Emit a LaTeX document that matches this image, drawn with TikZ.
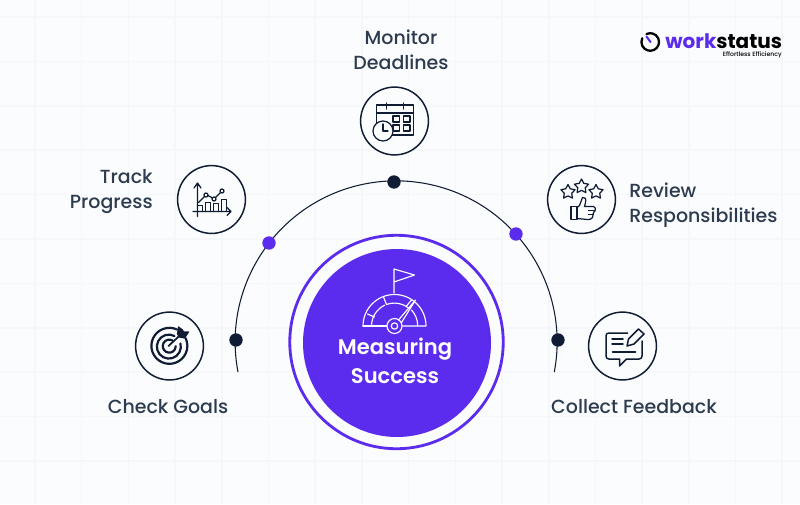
\documentclass[tikz,border=0pt]{standalone}
\usepackage{fontspec}
\setmainfont{Poppins}
\newfontfamily\labelfont{Poppins Medium}
\newfontfamily\headfont{Poppins SemiBold}
\usetikzlibrary{positioning, calc, shapes.geometric}
\definecolor{pagebg}{HTML}{FBFCFE}
\definecolor{gridline}{HTML}{F6F7FB}
\definecolor{brandpurple}{HTML}{5B2BEE}
\definecolor{navy}{HTML}{101C33}
\definecolor{labeltext}{HTML}{2D3B4E}
\tikzset{
  iconcircle/.style={circle, draw=navy, line width=0.85pt, minimum size=38.6pt, inner sep=0pt, fill=pagebg},
  dotnavy/.style={circle, fill=navy, minimum size=7.6pt, inner sep=0pt},
  dotpurple/.style={circle, fill=brandpurple, minimum size=7.6pt, inner sep=0pt},
  steplabel/.style={text=labeltext, font=\labelfont\fontsize{10.8}{14.2}\selectfont, inner sep=0pt},
  glyph/.style={draw=navy, line width=0.7pt, line cap=round, line join=round},
  glyphw/.style={draw=white, line width=0.65pt, line cap=round, line join=round},
  ratestar/.style={star, star points=5, star point ratio=1.9, glyph, minimum size=8.5pt, inner sep=0pt}
}
\begin{document}
\begin{tikzpicture}[x=0.02cm, y=-0.02cm]
\useasboundingbox (0,0) rectangle (800,504);
\fill[pagebg] (0,0) rectangle (800,504);
% Background grid
\foreach \k in {0,...,16} {
  \draw[gridline, line width=0.9pt] ({35+46.7*\k},0) -- ({35+46.7*\k},504);
}
\foreach \k in {0,...,11} {
  \draw[gridline, line width=0.9pt] (0,{17+44.4*\k}) -- (800,{17+44.4*\k});
}
% Arc
\draw[navy, line width=0.6pt] (238,372) arc[start angle=190.8, end angle=-10.8, x radius=161, y radius=-161];
\node[dotnavy] (dottop) at (394,182) {};
\node[dotnavy] (dotleft) at (236,340) {};
\node[dotnavy] (dotright) at (558,340) {};
\node[dotpurple] (dotupleft) at (269,243) {};
\node[dotpurple] (dotupright) at (516,234) {};
% Centre
\node[circle, draw=brandpurple, line width=1.6pt, fill=pagebg, minimum size=121.5pt, inner sep=0pt] (ring) at (396.5,342) {};
\node[circle, fill=brandpurple, minimum size=107pt, inner sep=0pt] (hub) at (397,343) {};
\node[text=white, font=\headfont\fontsize{12}{15}\selectfont, inner sep=0pt] (measuring) at (395,349) {Measuring};
\node[text=white, font=\headfont\fontsize{12}{15}\selectfont, inner sep=0pt] (success) at (395,376) {Success};
% Gauge
\begin{scope}[shift={(394.5,326)}]
\draw[glyphw] (-31.5,0) arc[start angle=180, end angle=0, x radius=31.5, y radius=-31.5] -- (8,0);
\draw[glyphw] (-31.5,0) -- (-8,0);
\draw[glyphw] (-23,0) arc[start angle=180, end angle=115, x radius=23, y radius=-23];
\draw[glyphw] (-8,-21.5) arc[start angle=110, end angle=50, x radius=23, y radius=-23];
\draw[glyphw] (17,-16) arc[start angle=43, end angle=0, x radius=23, y radius=-23];
\draw[glyphw] (-27,-12) -- (-20,-9);
\draw[glyphw] (-11,-29) -- (-8,-21.5);
\draw[glyphw] (17,-26) -- (12,-20);
\draw[glyphw] (0,0) circle (7.5);
\draw[glyphw] (0,0) circle (3.2);
\draw[glyphw] (4,-6) -- (21,-26) (7,-3.5) -- (21,-26);
\draw[glyphw] (-0.5,-33) -- (-0.5,-57) -- (20,-51) -- (-0.5,-44);
\end{scope}
% Monitor Deadlines
\node[iconcircle] (monitor) at (394.5,121) {};
\node[steplabel, align=center] (monitortext) at (401,50) {Monitor\\Deadlines};
\begin{scope}[shift={(monitor.center)}]
\draw[glyph] (-18,-16) rectangle (19,14);
\draw[glyph] (-18,-8) -- (19,-8);
\draw[glyph] (-8,-18) -- (-8,-12) (9,-18) -- (9,-12);
\foreach \cx/\cy in {-1.5/-5, 9/-5, -1.5/4, 9/4} {
  \draw[glyph] (\cx,\cy) rectangle ++(6.5,6);
}
\fill[pagebg] (-11.5,10) circle (10);
\draw[glyph] (-11.5,10) circle (10);
\draw[glyph] (-11.5,3) -- (-11.5,10) -- (-6.5,10);
\end{scope}
% Track Progress
\node[iconcircle] (track) at (211.5,199.5) {};
\node[steplabel, align=right, anchor=east] (tracktext) at (153,192) {Track\\Progress};
\begin{scope}[shift={(track.center)}]
\draw[glyph] (-14,17) -- (-14,-16.5) (-17.5,-11.5) -- (-14,-16.5) -- (-10.5,-11.5);
\draw[glyph] (-18.5,12) -- (19.5,12) (15.5,8) -- (19.5,12) -- (15.5,16);
\draw[glyph] (-13,3) -- (-7,-3) (-3.5,-4) -- (1,-1.5) (4,-2) -- (9,-7);
\draw[glyph] (-5.5,-4.5) circle (2) (2.5,-0.5) circle (2) (10.5,-8.5) circle (2);
\draw[glyph] (-14,6) -- (-9,6) -- (-9,12);
\draw[glyph] (-6,12) -- (-6,3) -- (-1,3) -- (-1,12);
\draw[glyph] (2,12) -- (2,4) -- (7,4) -- (7,12);
\draw[glyph] (10,12) -- (10,0) -- (15,0) -- (15,12);
\end{scope}
% Review Responsibilities
\node[iconcircle] (review) at (581.5,199.5) {};
\node[steplabel, align=left, anchor=west] (reviewtext) at (629,205) {Review\\Responsibilities};
\begin{scope}[shift={(review.center)}]
\node[ratestar] (starleft) at (-13.5,-7.5) {};
\node[ratestar] (starmid) at (0,-13) {};
\node[ratestar] (starright) at (14.5,-7.5) {};
\draw[glyph] (-10.5,7) rectangle (-4.5,20);
\draw[glyph] (-4.5,8) -- (-2,6) -- (1,-2) .. controls (3,-3) and (5,-1) .. (4,3) -- (3,7) -- (12,7) .. controls (15,8) and (14,12) .. (12,13) -- (11,18) .. controls (10,20) and (8,20) .. (6,20) -- (-4.5,19);
\draw[glyph] (7,11) -- (13,11) (7,15) -- (12,15);
\end{scope}
% Check Goals
\node[iconcircle] (check) at (169.5,346) {};
\node[steplabel] (checktext) at (168,407) {Check Goals};
\begin{scope}[shift={(check.center)}]
\draw[navy, line width=1.25pt, line cap=round] (7.5,-16.5) arc[start angle=65, end angle=385, x radius=18, y radius=-18];
\draw[navy, line width=1.25pt, line cap=round] (5,-10) arc[start angle=62, end angle=375, x radius=12, y radius=-12];
\draw[navy, line width=1.25pt, line cap=round] (3,-5.5) arc[start angle=60, end angle=360, x radius=6.5, y radius=-6.5];
\draw[navy, line width=1pt, line cap=round] (-1,0) -- (14,-14);
\draw[glyph, fill=navy] (8,-12) -- (9,-19) -- (13,-16) -- (14,-14) -- (19,-14) -- (15,-8) -- (10,-9) -- cycle;
\end{scope}
% Collect Feedback
\node[iconcircle] (collect) at (622.5,346) {};
\node[steplabel] (collecttext) at (634,407) {Collect Feedback};
\begin{scope}[shift={(collect.center)}]
\draw[glyph, line width=0.85pt] (5,-13) -- (-13.5,-13) .. controls (-15.5,-13) and (-16.5,-12) .. (-16.5,-10) -- (-16.5,10) .. controls (-16.5,12) and (-15.5,13) .. (-13.5,13) -- (-3,13) -- (-3,20) -- (4,13) -- (16.5,13) .. controls (18.5,13) and (19.5,12) .. (19.5,10) -- (19.5,-5);
\draw[glyph, line width=0.85pt] (-10.5,-7) -- (0.5,-7) (-10.5,-2) -- (0.5,-2) (-10,6) -- (13,6);
\draw[glyph, line width=0.85pt] (4.5,0) -- (6,-7) -- (16,-17) -- (21.5,-12) -- (11.5,-2) -- cycle;
\end{scope}
% Logo
\coordinate (clock) at (650.5,42);
\draw[black, line width=1.3pt, line cap=round] (646.5,34) arc[start angle=115, end angle=-205, x radius=8.8, y radius=-8.8];
\draw[brandpurple, line width=1.2pt, line cap=round] (clock) -- ++(-4,-5.5);
\node[anchor=base west, inner sep=0pt, font=\bfseries\fontsize{11.4}{14}\selectfont] (brand) at (665,48) {\textcolor{brandpurple}{work}\textcolor{black}{status}};
\node[anchor=base east, inner sep=0pt, text=black, font=\labelfont\fontsize{3.5}{4}\selectfont] (tagline) at (782,56.5) {Effortless Efficiency};
\end{tikzpicture}
\end{document}
